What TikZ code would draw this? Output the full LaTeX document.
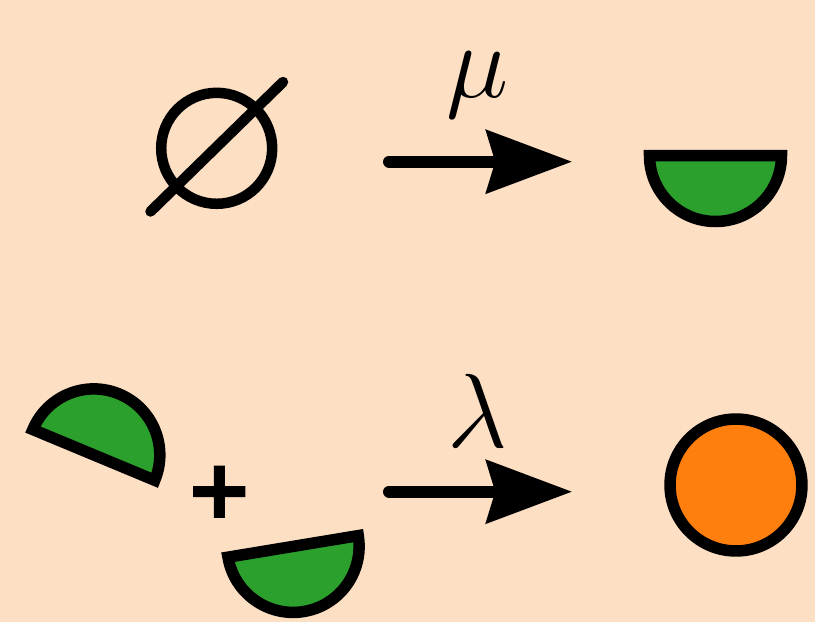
\RequirePackage{fix-cm}
\documentclass[tikz,border=0pt]{standalone}
\usepackage{fontspec}
\usetikzlibrary{arrows.meta}
\newfontfamily\plusfont{DejaVu Sans}[FakeBold=2]
\definecolor{peach}{RGB}{253,223,196}
\definecolor{halfgreen}{RGB}{44,160,44}
\definecolor{fullorange}{RGB}{255,127,14}

\begin{document}
\begin{tikzpicture}[
    x=0.02cm, y=0.02cm,
    piece/.style={draw=black, line width=0.23cm, fill=halfgreen},
    product/.style={piece, fill=fullorange, circle, inner sep=0pt, minimum size=2.64cm},
    nothing/.style={draw=black, line width=0.21cm, line cap=round},
    arrow/.style={draw, line width=0.24cm, line cap=round,
                  -{Stealth[length=1.73cm, width=1.3cm, inset=0.2cm, line width=0pt]}},
    rate/.style={font=\fontsize{60}{72}\selectfont, anchor=base, inner sep=0pt},
    plussign/.style={font=\plusfont\bfseries\fontsize{46}{50}\selectfont, inner sep=0pt}
]

% ===== Background =====
\fill[peach] (0,0) rectangle (815,-622);
\useasboundingbox (0,0) rectangle (815,-622);

% ===== Creation: empty set -> half =====
\node[nothing, circle, inner sep=0pt, minimum size=2.22cm] (none) at (216.7,-148.3) {};
\draw[nothing] (150.5,-211.5) -- (283,-82);

\coordinate (mu0) at (389,-161.7);
\coordinate (mu1) at (571.7,-161.7);
\draw[arrow] (mu0) -- (mu1);
\node[rate] (mu) at (477.5,-97) {$\mu$};

\draw[piece, shift={(715.5,-155.5)}]
    (-66,0) arc[start angle=180, end angle=360, radius=66] -- cycle;

% ===== Merging: half + half -> whole =====
\draw[piece, shift={(93.8,-454.9)}, rotate=-22.6]
    (66,0) arc[start angle=0, end angle=180, radius=66] -- cycle;
\node[plussign] (plus) at (219.3,-491.7) {+};
\draw[piece, shift={(293.1,-546.4)}, rotate=9.4]
    (-66,0) arc[start angle=180, end angle=360, radius=66] -- cycle;

\coordinate (la0) at (389,-491.7);
\coordinate (la1) at (571.7,-491.7);
\draw[arrow] (la0) -- (la1);
\node[rate] (lambda) at (477.5,-447.3) {$\lambda$};

\node[product] (whole) at (736,-485) {};

\end{tikzpicture}
\end{document}
